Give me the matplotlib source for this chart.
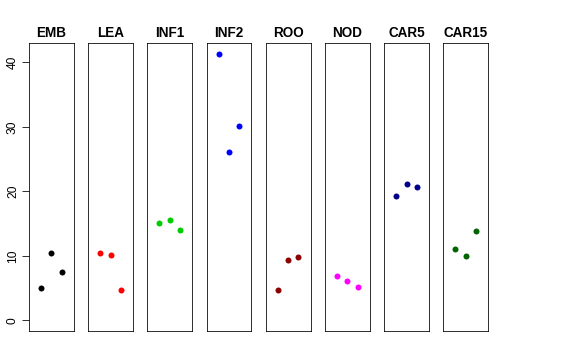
import matplotlib
matplotlib.use("Agg")
import matplotlib.pyplot as plt

# ---- data
groups = ["EMB", "LEA", "INF1", "INF2", "ROO", "NOD", "CAR5", "CAR15"]
colors = ["black", "red", "#00CD00", "blue", "#8B0000", "magenta", "#00008B", "#006400"]
positions = [1, 2, 3]
values = {
    "EMB": [4.96, 10.4, 7.45],
    "LEA": [10.4, 10.2, 4.7],
    "INF1": [15.1, 15.5, 13.95],
    "INF2": [41.3, 26.05, 30.1],
    "ROO": [4.7, 9.3, 9.77],
    "NOD": [6.9, 6.05, 5.2],
    "CAR5": [19.2, 21.1, 20.7],
    "CAR15": [11.0, 9.9, 13.8],
}
yticks = [0, 10, 20, 30, 40]

plt.rcParams['font.family'] = ['Liberation Sans', 'DejaVu Sans']

fig = plt.figure(figsize=(8, 5), dpi=72)
W, H = 576.0, 360.0
for i, g in enumerate(groups):
        left = 29 + i * 59.2
        ax = fig.add_axes([left / W, 29 / H, 44.7 / W, 288 / H])
        ax.plot(positions, values[g], 'o', color=colors[i], ms=6, mec='none')
        ax.set_xlim(-0.16, 4.16)
        ax.set_ylim(-1.66, 43.0)
        ax.set_xticks([])
        ax.set_title(g, fontsize=13.5, fontweight='bold', pad=6)
        for s in ax.spines.values():
                s.set_linewidth(0.8)
                s.set_color('black')
        if i == 0:
                ax.set_yticks(yticks)
                ax.set_yticklabels([str(t) for t in yticks], rotation=90, va='center', fontsize=12)
                ax.tick_params(axis='y', length=7, width=0.8, pad=3)
        else:
                ax.set_yticks([])

plt.savefig("out.png", dpi=72)
